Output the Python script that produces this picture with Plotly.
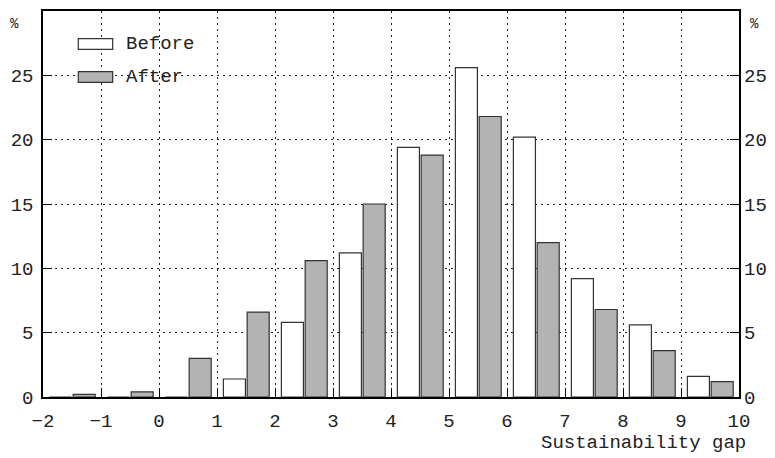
import plotly.graph_objects as go

# Data (bin lower edges, % before / after)
bins = [-2, -1, 0, 1, 2, 3, 4, 5, 6, 7, 8, 9]
before = [0, 0, 0, 1.4, 5.8, 11.2, 19.4, 25.6, 20.2, 9.2, 5.6, 1.6]
after = [0.2, 0.4, 3.0, 6.6, 10.6, 15.0, 18.8, 21.8, 12.0, 6.8, 3.6, 1.2]
x_ticks = list(range(-2, 11))
y_ticks = [0, 5, 10, 15, 20, 25]

FONT = "Liberation Mono"
FS = 19
WHITE = "#ffffff"
GRAY = "#b3b3b3"
EDGE = "#333333"

fig = go.Figure()
fig.add_trace(go.Bar(x=bins, y=before, name="Before", offset=0.11, width=0.38,
                     marker=dict(color=WHITE, line=dict(color=EDGE, width=1.2)),
                     showlegend=False))
fig.add_trace(go.Bar(x=bins, y=after, name="After", offset=0.52, width=0.38,
                     marker=dict(color=GRAY, line=dict(color=EDGE, width=1.2)),
                     showlegend=False))
# invisible trace for right axis
fig.add_trace(go.Scatter(x=[bins[0]], y=[0], yaxis="y2", mode="markers",
                         marker=dict(opacity=0), showlegend=False, hoverinfo="skip"))

grid = dict(showgrid=True, gridcolor="#222222", gridwidth=1, griddash="2px,4px")
fig.update_layout(
    width=775, height=458,
    margin=dict(l=43, r=36, t=11, b=61),
    paper_bgcolor="white", plot_bgcolor="white",
    font=dict(family=FONT, size=FS, color="#222222"),
    barmode="overlay",
    xaxis=dict(range=[-2, 10], tickvals=x_ticks, ticks="inside", ticklen=9,
               tickcolor="black", showline=True, linecolor="black", linewidth=1.5,
               mirror=True, zeroline=False, ticklabelstandoff=5, automargin=False, **grid),
    yaxis=dict(range=[0, 30], tickvals=y_ticks, ticks="inside", ticklen=9,
               tickcolor="black", showline=True, linecolor="black", linewidth=1.5,
               mirror=True, zeroline=False, ticklabelstandoff=4, automargin=False, **grid),
    yaxis2=dict(range=[0, 30], tickvals=y_ticks, ticks="inside", ticklen=9,
                tickcolor="black", overlaying="y", side="right", showgrid=False,
                zeroline=False, showline=False, ticklabelstandoff=4, automargin=False),
)

# "%" markers
for xp, anc in [(0, "right"), (1, "left")]:
    fig.add_annotation(x=xp, y=29.0, xref="paper", yref="y", text="%", showarrow=False,
                       xanchor=anc, xshift=-22 if xp == 0 else 9,
                       font=dict(family=FONT, size=14))

# x axis title
fig.add_annotation(x=1.013, y=-0.085, xref="paper", yref="paper", text="Sustainability gap",
                   showarrow=False, xanchor="right", yanchor="top",
                   font=dict(family=FONT, size=FS))

# legend drawn manually
for label, color, yc in [("Before", WHITE, 0.9145), ("After", GRAY, 0.829)]:
    fig.add_shape(type="rect", xref="paper", yref="paper", x0=0.0507, x1=0.1001,
                  y0=yc - 0.0138, y1=yc + 0.0138, fillcolor=color,
                  line=dict(color=EDGE, width=1.2), layer="above")
    fig.add_annotation(x=0.1164, y=yc, xref="paper", yref="paper", text=label,
                       showarrow=False, xanchor="left", yanchor="middle",
                       font=dict(family=FONT, size=FS), bgcolor="rgba(0,0,0,0)")

fig.write_html("out.html", config={"displayModeBar": False},
               post_script="document.body.style.margin='0';document.body.style.overflow='hidden';")
